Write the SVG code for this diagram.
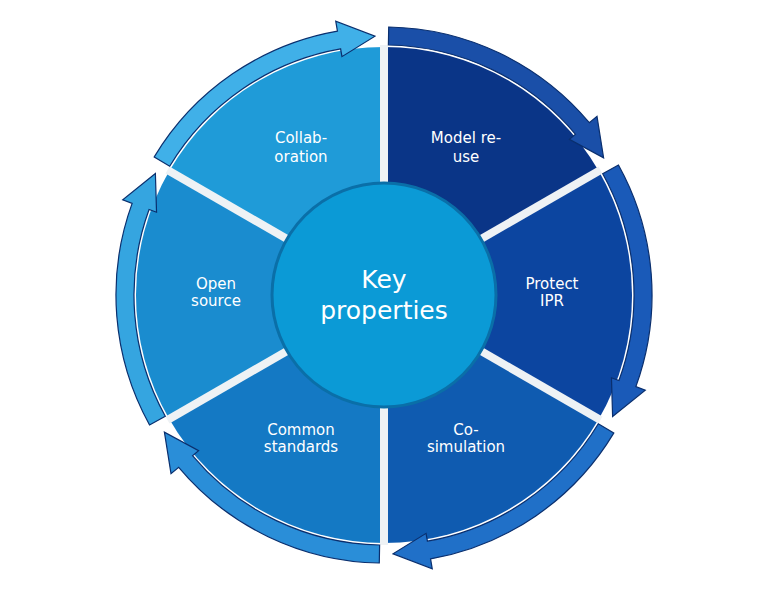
<svg xmlns="http://www.w3.org/2000/svg" xmlns:xlink="http://www.w3.org/1999/xlink" width="768" height="589" viewBox="0 0 768 589">
<style>
.lbl{font-family:"DejaVu Sans",sans-serif;font-size:15px;fill:#fff;text-anchor:middle}
.key{font-family:"DejaVu Sans",sans-serif;font-size:25px;fill:#fff;text-anchor:middle}
.arr{stroke:#0a2f6e;stroke-width:1.2}
</style>
<defs>
<path id="wedge" d="M0,0 L0,-248 A248,248 0 0 1 214.8,-124 Z"/>
<path id="arrow" d="M4.7,-268 A268,268 0 0 1 205.3,-172.3 L213,-178.7 L219.6,-137.2 L185.4,-155.6 L191.5,-160.7 A250,250 0 0 0 4.4,-250 Z"/>
</defs>
<rect width="768" height="589" fill="#fff"/>
<g transform="translate(384,295)">
<g id="n-model"><use xlink:href="#wedge" fill="#0a3587"/></g>
<g id="n-protect"><use xlink:href="#wedge" fill="#0c45a0" transform="rotate(60)"/></g>
<g id="n-cosim"><use xlink:href="#wedge" fill="#0f5bb0" transform="rotate(120)"/></g>
<g id="n-common"><use xlink:href="#wedge" fill="#1479c4" transform="rotate(180)"/></g>
<g id="n-open"><use xlink:href="#wedge" fill="#1a8ccf" transform="rotate(240)"/></g>
<g id="n-collab"><use xlink:href="#wedge" fill="#1f9bd8" transform="rotate(300)"/></g>
<g stroke="#eef2f5" stroke-width="8">
<line x1="0" y1="0" x2="0" y2="-250"/>
<line x1="0" y1="0" x2="0" y2="250"/>
<line x1="0" y1="0" x2="216.5" y2="-125"/>
<line x1="0" y1="0" x2="216.5" y2="125"/>
<line x1="0" y1="0" x2="-216.5" y2="-125"/>
<line x1="0" y1="0" x2="-216.5" y2="125"/>
</g>
<g id="connectors">
<use class="arr" xlink:href="#arrow" fill="#1a4fa8"/>
<use class="arr" xlink:href="#arrow" fill="#1a5ab8" transform="rotate(60)"/>
<use class="arr" xlink:href="#arrow" fill="#2070c8" transform="rotate(120)"/>
<use class="arr" xlink:href="#arrow" fill="#2a8ed8" transform="rotate(180)"/>
<use class="arr" xlink:href="#arrow" fill="#35a5e0" transform="rotate(240)"/>
<use class="arr" xlink:href="#arrow" fill="#40b0e8" transform="rotate(300)"/>
</g>
<g id="n-center"><circle r="112" fill="#0b9ad6" stroke="#0a6fa8" stroke-width="3"/></g>
</g>
<text class="lbl" x="466" y="143">Model re-</text><text class="lbl" x="466" y="162">use</text>
<text class="lbl" x="552" y="289">Protect</text><text class="lbl" x="552" y="306">IPR</text>
<text class="lbl" x="466" y="435">Co-</text><text class="lbl" x="466" y="452">simulation</text>
<text class="lbl" x="301" y="435">Common</text><text class="lbl" x="301" y="452">standards</text>
<text class="lbl" x="216" y="289">Open</text><text class="lbl" x="216" y="306">source</text>
<text class="lbl" x="301" y="143">Collab-</text><text class="lbl" x="301" y="162">oration</text>
<text class="key" x="384" y="288">Key</text><text class="key" x="384" y="319">properties</text>
</svg>
